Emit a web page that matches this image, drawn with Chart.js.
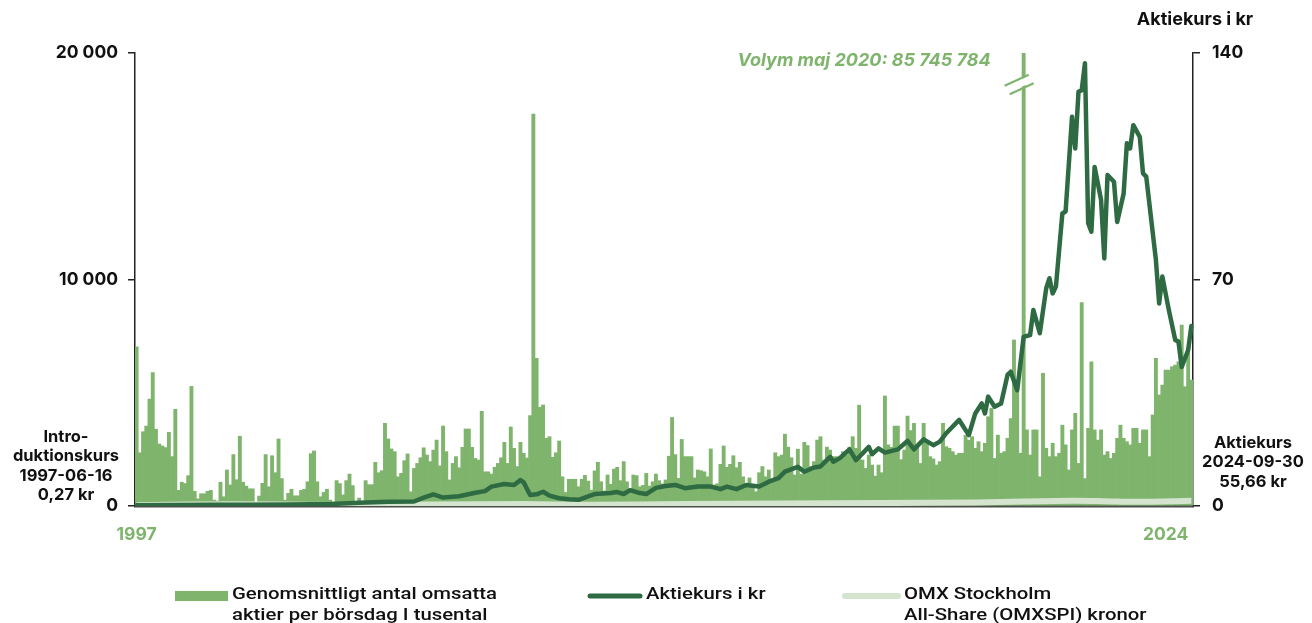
<!DOCTYPE html>
<html>
<head>
<meta charset="utf-8">
<script src="https://cdn.jsdelivr.net/npm/chart.js@4.4.1/dist/chart.umd.min.js"></script>
<style>
  html, body { margin: 0; padding: 0; background: #fff; }
  #wrap { position: relative; width: 1312px; height: 623px; }
  canvas { display: block; }
</style>
</head>
<body>
<div id="wrap"><canvas id="c" width="1312" height="623"></canvas></div>
<script>
// first month of the series
const startYear = 1997;
const startMonth = 6;

// average traded shares per trading day, thousands, one value per month 1997-06 .. 2024-09
const volumes = [
  7030, 2350, 3280, 3530, 4720, 5890, 3390, 2740, 2650, 2580,
  3250, 2180, 4270, 690, 1050, 990, 1340, 5280, 650, 320,
  540, 540, 650, 690, 260, 220, 1050, 410, 1590, 930,
  2270, 1160, 3080, 1050, 880, 760, 760, 50, 440, 1000,
  2270, 850, 2220, 1470, 2960, 1210, 260, 560, 740, 450,
  450, 690, 740, 1070, 2310, 2430, 1070, 410, 600, 740,
  260, 100, 1120, 990, 490, 1120, 1410, 900, 150, 350,
  200, 1120, 940, 940, 1930, 1470, 1560, 3650, 2960, 2520,
  2400, 1290,
  1440, 2000, 2300, 630, 1660, 1880, 2130, 2570, 2250, 1960,
  2470, 2910, 1770, 3530, 2400, 1150, 1880, 2180, 1690, 2590,
  3400, 3400, 2590, 2100, 2030, 4180, 1510, 1510, 1410, 1710,
  1880, 2130, 2810, 1880, 3490, 2550, 1740, 2810, 2330, 2120,
  3990, 17300, 6520, 4360, 4460, 2990, 3060, 2150, 2350, 2870,
  1290, 600, 1180, 1180, 1180, 850, 1180, 1350, 1100, 700,
  1550, 1930, 1070, 660, 1370, 960, 1630, 1710, 1120, 1960,
  1070, 740, 1370, 1340, 850, 910, 1440, 880, 1070,
  1410, 1120, 980, 1150, 2200, 3910, 2270, 1220, 2940, 2180,
  2180, 2180, 1240, 1590, 1560, 1510, 1290, 2520, 930, 980,
  1840, 2650, 1710, 1840, 2220, 1690, 1930, 1290, 880, 1240,
  850, 630, 1470, 1740, 1290, 1590, 1150, 2350, 2180, 2250,
  3170, 2600, 2130, 1370, 2510, 1410, 2810, 2670, 1740, 1960,
  2910, 3060, 2030, 2600, 2470, 2180, 2180, 2100, 2400, 2250,
  2600, 3060, 2550, 4450, 2030, 1660, 2250, 1810, 1320, 1810,
  1470, 4860, 2700, 2590, 3530, 3530, 2050, 2470, 3970, 3330,
  3650, 2650,
  1880, 3650, 2770, 2180, 2080, 1810, 1960, 3650, 2620, 2550,
  2400, 2250, 2330, 2330, 3130, 2910, 3060, 2550, 2840, 2400,
  2770, 3940, 4310, 2100, 3130, 2330, 2400, 2990, 3860, 7330,
  5050, 2330, 85746,
  3360, 2250, 3360, 3360, 1290, 5860, 2550, 2180, 2770, 2180,
  2330, 3570, 2700, 1590, 3360, 4090, 1880, 8980, 1210, 3430,
  6370, 3360, 2910, 3360, 2250, 2400, 2100, 2330, 2990, 3570,
  2990, 2840, 2700, 3430, 3430, 2770, 3360, 3360, 2180, 4020,
  6520, 4900, 5340, 6000, 6000, 6150, 6220, 6370, 7990, 5270, 6890, 5560
];

// share price in kr, read at these month positions (index from 1997-06)
const priceIdx = [
  0, 12, 24, 36, 48, 60, 69, 78, 86, 89,
  92, 95, 100, 105, 108, 110, 114, 117, 119, 120,
  122, 124, 126, 128, 131, 134, 137, 140, 142, 147,
  149, 151, 153, 156, 158, 161, 164, 167, 170, 174,
  178, 181, 183, 186, 189, 193, 196, 199, 201, 205,
  207, 210, 212, 215, 216, 218, 221, 223, 225, 227,
  228, 230, 232, 236, 239, 241, 244, 247, 249, 251,
  255, 258, 260, 262, 263, 264, 266, 268, 270, 271,
  273, 275, 277, 278, 280, 282, 283, 284, 285, 287,
  288, 290, 291, 292, 293, 294, 295, 296, 297, 299,
  300, 301, 303, 304, 306, 307, 308, 309, 311, 312,
  313, 316, 317, 318, 320, 322, 323, 324, 326, 327
];
const priceVals = [
  0.27, 0.3, 0.35, 0.4, 0.45, 0.6, 1.0, 1.3, 1.4, 2.6,
  3.6, 2.6, 3.0, 4.1, 4.6, 6.0, 6.8, 6.5, 8.0, 7.3,
  3.4, 3.6, 4.4, 3.2, 2.4, 2.1, 1.9, 3.0, 3.7, 4.0,
  4.3, 3.7, 4.9, 4.0, 3.7, 5.6, 6.2, 6.5, 5.5, 6.0,
  6.0, 5.2, 6.0, 5.2, 6.5, 6.0, 7.5, 8.6, 10.6, 12.1,
  10.6, 11.9, 12.2, 15.2, 13.7, 14.8, 17.5, 14.2, 16.2, 18.3,
  16.0, 17.8, 16.5, 17.5, 20.1, 17.5, 20.6, 18.8, 19.9, 22.5,
  26.6, 21.9, 28.6, 31.7, 28.6, 33.8, 30.7, 31.7, 40.5, 41.5,
  35.8, 52.3, 52.8, 60.6, 53.4, 67.3, 70.4, 65.7, 67.8, 90.4,
  91.0, 120.3, 110.5, 128.0, 128.5, 136.8, 87.4, 84.8, 104.8, 94.6,
  76.5, 102.3, 100.2, 87.8, 96.6, 112.1, 110.5, 117.7, 114.1, 102.8,
  101.8, 76.0, 62.6, 70.9, 60.6, 51.3, 50.8, 43.0, 48.2, 55.66
];

// OMXSPI expressed in kronor from the introduction price
const omxIdx = [0, 30, 60, 90, 120, 140, 170, 200, 230, 260, 290, 300, 310, 327];
const omxVals = [0.27, 0.55, 0.3, 0.45, 0.6, 0.4, 0.6, 0.8, 0.9, 1.1, 1.6, 1.5, 1.3, 1.6];

const yearTicks = { '1997-06': '1997', '2024-01': '2024' };
const volTicks = [0, 10000, 20000];
const priceTicks = [0, 70, 140];

const spikeMonth = '2020-05';
const spikeNote = 'Volym maj 2020: 85 745 784';
const introNote = ['Intro-', 'duktionskurs', '1997-06-16', '0,27 kr'];
const lastNote = ['Aktiekurs', '2024-09-30', '55,66 kr'];
const rightTitle = 'Aktiekurs i kr';
const legendItems = [
  { kind: 'bar', lines: ['Genomsnittligt antal omsatta', 'aktier per börsdag I tusental'] },
  { kind: 'price', lines: ['Aktiekurs i kr'] },
  { kind: 'omx', lines: ['OMX Stockholm', 'All-Share (OMXSPI) kronor'] }
];

const barGreen = '#7fb46d';
const darkGreen = '#2e6a42';
const lightGreen = '#d4e4ce';
const ink = '#111';

const labels = volumes.map((v, i) => {
  const m = startMonth - 1 + i;
  return (startYear + Math.floor(m / 12)) + '-' + String(m % 12 + 1).padStart(2, '0');
});
const pricePoints = priceIdx.map((k, j) => ({ x: labels[k], y: priceVals[j] }));
const omxPoints = omxIdx.map((k, j) => ({ x: labels[k], y: omxVals[j] }));

const fmt = v => String(v).replace(/\B(?=(\d{3})+(?!\d))/g, ' ');
const boldFont = { family: 'Inter', weight: 'bold', size: 17.5 };

const notes = {
  id: 'notes',
  afterDatasetsDraw(chart) {
    const { ctx, scales: { x, yVol } } = chart;
    const sx = x.getPixelForValue(labels.indexOf(spikeMonth));
    const sy = yVol.getPixelForValue(18600);
    ctx.save();
    // axis break on the clipped bar
    ctx.lineCap = 'butt';
    ctx.strokeStyle = '#fff';
    ctx.lineWidth = 7;
    ctx.beginPath();
    ctx.moveTo(sx - 17, sy + 5);
    ctx.lineTo(sx + 7, sy - 6);
    ctx.stroke();
    ctx.strokeStyle = barGreen;
    ctx.lineWidth = 2.2;
    [[-19, 1], [-14, 9.5]].forEach(([dx, dy]) => {
      ctx.beginPath();
      ctx.moveTo(sx + dx, sy + dy);
      ctx.lineTo(sx + dx + 24, sy + dy - 11);
      ctx.stroke();
    });
    ctx.font = 'italic bold 18px Inter';
    ctx.fillStyle = barGreen;
    ctx.textAlign = 'right';
    ctx.textBaseline = 'middle';
    ctx.fillText(spikeNote, sx - 33, yVol.getPixelForValue(20000) + 8);
    ctx.restore();
  },
  afterDraw(chart) {
    const { ctx, chartArea: a } = chart;
    ctx.save();
    ctx.fillStyle = ink;
    ctx.font = 'bold 16.5px Inter';
    ctx.textAlign = 'center';
    ctx.textBaseline = 'middle';
    introNote.forEach((t, k) => ctx.fillText(t, 66, a.bottom - 69 + k * 19.5));
    lastNote.forEach((t, k) => ctx.fillText(t, 1253, a.bottom - 63 + k * 19.5));
    ctx.font = 'bold 18px Inter';
    ctx.fillText(rightTitle, 1195, 20);

    // legend
    ctx.font = '500 17px Roboto';
    const sc = 265 / ctx.measureText(legendItems[0].lines[0]).width;
    const lx = [175, 588, 843];
    const lw = [53, 54, 57];
    legendItems.forEach((it, k) => {
      const x0 = lx[k];
      if (it.kind === 'bar') {
        ctx.fillStyle = barGreen;
        ctx.fillRect(x0, 591, lw[k], 10);
      } else {
        ctx.strokeStyle = it.kind === 'price' ? darkGreen : lightGreen;
        ctx.lineWidth = it.kind === 'price' ? 5 : 6;
        ctx.lineCap = 'round';
        ctx.beginPath();
        ctx.moveTo(x0 + 2, 596);
        ctx.lineTo(x0 + lw[k] - 2, 596);
        ctx.stroke();
      }
      ctx.fillStyle = ink;
      ctx.textAlign = 'left';
      it.lines.forEach((t, j) => {
        ctx.save();
        ctx.translate(x0 + lw[k] + 4, 595 + j * 20.5);
        ctx.scale(sc, 1);
        ctx.fillText(t, 0, 0);
        ctx.restore();
      });
    });
    ctx.restore();
  }
};

new Chart(document.getElementById('c'), {
  type: 'bar',
  data: {
    labels: labels,
    datasets: [
      {
        type: 'line',
        label: 'Aktiekurs i kr',
        data: pricePoints,
        yAxisID: 'yPrice',
        borderColor: darkGreen,
        borderWidth: 4.5,
        borderJoinStyle: 'round',
        borderCapStyle: 'round',
        pointRadius: 0,
        spanGaps: true,
        tension: 0,
        order: 0
      },
      {
        type: 'line',
        label: 'OMX Stockholm All-Share (OMXSPI) kronor',
        data: omxPoints,
        yAxisID: 'yPrice',
        borderColor: lightGreen,
        borderWidth: 6,
        pointRadius: 0,
        spanGaps: true,
        tension: 0.3,
        order: 1
      },
      {
        label: 'Genomsnittligt antal omsatta aktier per börsdag I tusental',
        data: volumes,
        yAxisID: 'yVol',
        backgroundColor: barGreen,
        barPercentage: 1,
        categoryPercentage: 1,
        order: 2
      }
    ]
  },
  options: {
    responsive: false,
    animation: false,
    layout: { padding: { top: 53, left: 0, right: 0, bottom: 0 } },
    plugins: { legend: { display: false }, tooltip: { enabled: false } },
    scales: {
      x: {
        grid: { display: false, drawTicks: false },
        border: { display: true, color: '#4d4d4d', width: 2.5 },
        ticks: {
          autoSkip: false, maxRotation: 0, minRotation: 0,
          color: barGreen, font: boldFont, padding: 18,
          callback: (v, i) => yearTicks[labels[i]] || ''
        },
        afterFit: s => { s.height = 117; }
      },
      yVol: {
        position: 'left',
        min: 0, max: 20000,
        afterBuildTicks: s => { s.ticks = volTicks.map(v => ({ value: v })); },
        grid: { drawOnChartArea: false, drawTicks: true, tickLength: 7, color: '#222', lineWidth: 1.5 },
        border: { display: true, color: '#222', width: 1.5 },
        ticks: { color: ink, font: boldFont, padding: 10, callback: v => fmt(v) },
        afterFit: s => { s.width = 135; }
      },
      yPrice: {
        position: 'right',
        min: 0, max: 140,
        afterBuildTicks: s => { s.ticks = priceTicks.map(v => ({ value: v })); },
        grid: { drawOnChartArea: false, drawTicks: true, tickLength: 7, color: '#222', lineWidth: 1.5 },
        border: { display: true, color: '#222', width: 1.5 },
        ticks: { color: ink, font: boldFont, padding: 12 },
        afterFit: s => { s.width = 119; }
      }
    }
  },
  plugins: [notes]
});
</script>
</body>
</html>
